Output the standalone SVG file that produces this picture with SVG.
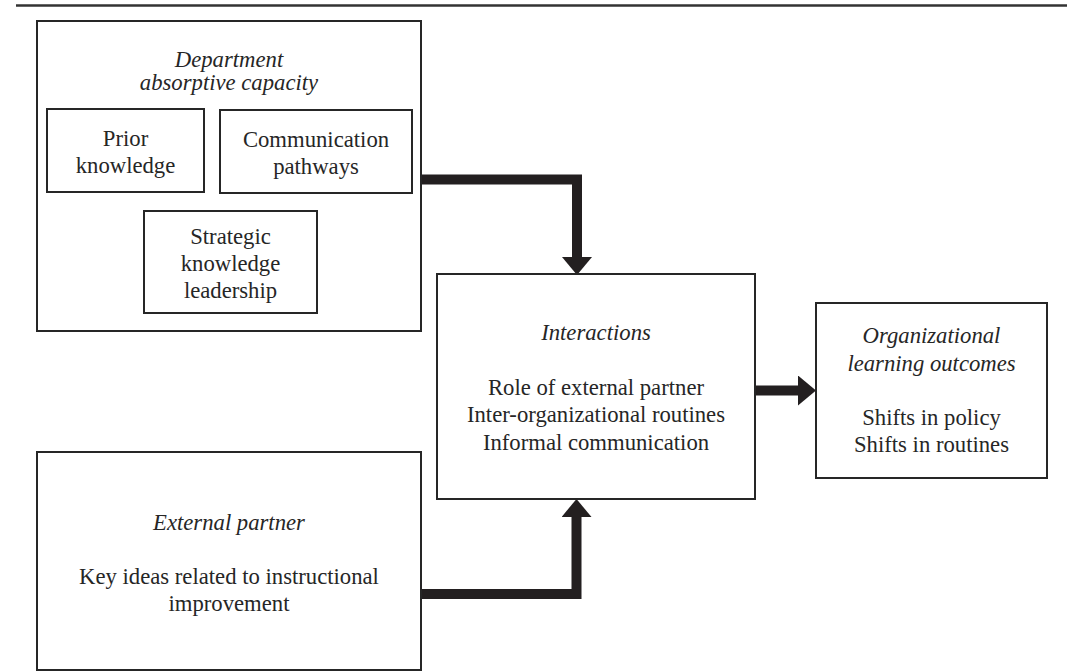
<svg xmlns="http://www.w3.org/2000/svg" width="1071" height="672" viewBox="0 0 1071 672">
<style>
.box{fill:#fff;stroke:#262626;stroke-width:2}
.t{font-family:"Liberation Serif","Times New Roman",serif;font-size:22.7px;fill:#262626;text-anchor:middle}
.i{font-style:italic}
.conn{fill:none;stroke:#231f20;stroke-width:10;stroke-linejoin:miter}
</style>
<defs>
<marker id="head" viewBox="0 0 18 30" refX="0" refY="15" markerWidth="18" markerHeight="30" markerUnits="userSpaceOnUse" orient="auto">
<path d="M0,0 L18,15 L0,30 Z" fill="#231f20"/>
</marker>
</defs>
<rect width="1071" height="672" fill="#fff"/>
<line x1="16" y1="5.5" x2="1067" y2="5.5" stroke="#333" stroke-width="2.5"/>

<g id="connectors">
<path class="conn" d="M421,179.5 H577 V257" marker-end="url(#head)"/>
<path class="conn" d="M421,594 H576.5 V517" marker-end="url(#head)"/>
<path class="conn" d="M755,390.5 H798" stroke-width="11" marker-end="url(#head)"/>
</g>

<g id="department">
<rect class="box" x="37" y="21" width="384" height="310"/>
<text class="t i" x="229" y="67">Department</text>
<text class="t i" x="229" y="90">absorptive capacity</text>
</g>
<g id="prior-knowledge">
<rect class="box" x="47" y="109" width="157" height="83"/>
<text class="t" x="125.5" y="146">Prior</text>
<text class="t" x="125.5" y="173">knowledge</text>
</g>
<g id="communication-pathways">
<rect class="box" x="220" y="110" width="192" height="83"/>
<text class="t" x="316" y="147">Communication</text>
<text class="t" x="316" y="174">pathways</text>
</g>
<g id="strategic-knowledge-leadership">
<rect class="box" x="144" y="211" width="173" height="102"/>
<text class="t" x="230.5" y="244">Strategic</text>
<text class="t" x="230.5" y="271">knowledge</text>
<text class="t" x="230.5" y="298">leadership</text>
</g>
<g id="interactions">
<rect class="box" x="437" y="274" width="318" height="225"/>
<text class="t i" x="596" y="340">Interactions</text>
<text class="t" x="596" y="395">Role of external partner</text>
<text class="t" x="596" y="422">Inter-organizational routines</text>
<text class="t" x="596" y="450">Informal communication</text>
</g>
<g id="organizational-learning-outcomes">
<rect class="box" x="816" y="303" width="231" height="175"/>
<text class="t i" x="931.5" y="343">Organizational</text>
<text class="t i" x="931.5" y="371">learning outcomes</text>
<text class="t" x="931.5" y="425">Shifts in policy</text>
<text class="t" x="931.5" y="452">Shifts in routines</text>
</g>
<g id="external-partner">
<rect class="box" x="37" y="452" width="384" height="218"/>
<text class="t i" x="229" y="530">External partner</text>
<text class="t" x="229" y="584">Key ideas related to instructional</text>
<text class="t" x="229" y="611">improvement</text>
</g>
</svg>
